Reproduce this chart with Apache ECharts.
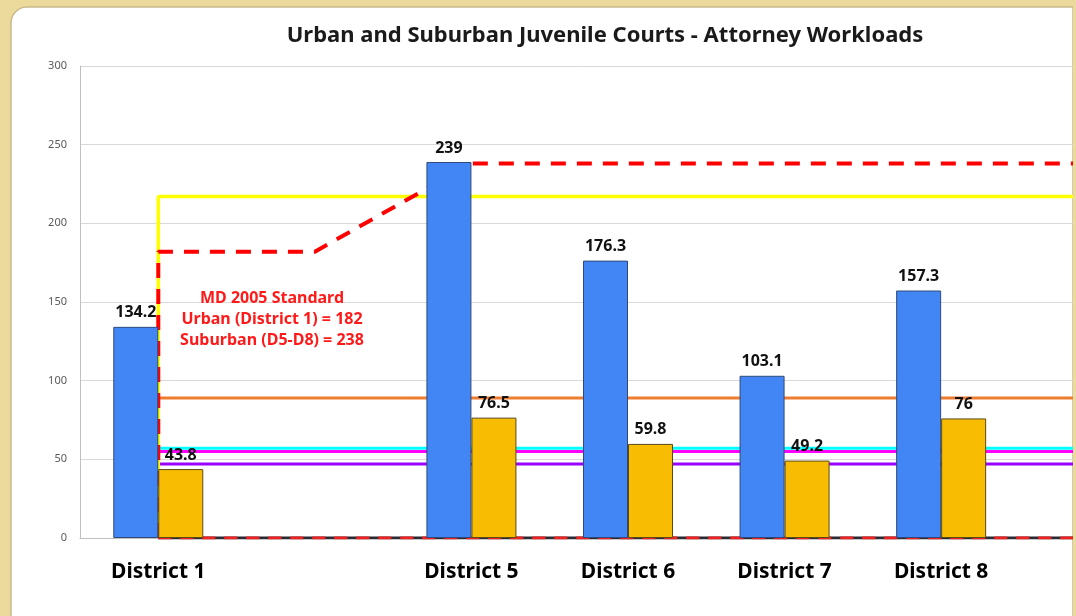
<!DOCTYPE html>
<html><head><meta charset="utf-8">
<script src="https://cdn.jsdelivr.net/npm/echarts@6/dist/echarts.min.js"></script>
<style>html,body{margin:0;padding:0;background:#ECDA9C;}#c{width:1076px;height:616px;}</style>
</head><body><div id="c"></div>
<script>
const categories = ['District 1', '', 'District 5', 'District 6', 'District 7', 'District 8', ''];
const attorneyWorkload = [134.2, null, 239, 176.3, 103.1, 157.3, null];
const secondWorkload = [43.8, null, 76.5, 59.8, 49.2, 76, null];
const yTicks = { min: 0, max: 300, interval: 50 };
// reference lines as [category index, value]
const yellowLine = [[0, 0], [0, 217], [6, 217]];
const redStandard = [[0, 0], [0, 182], [1, 182], [2, 238], [6, 238]];
const redZero = [[0, 0], [6, 0]];
const orangeLine = [[0, 89], [6, 89]];
const cyanLine = [[0, 57], [6, 57]];
const magentaLine = [[0, 55], [6, 55]];
const purpleLine = [[0, 47], [6, 47]];
const titleText = 'Urban and Suburban Juvenile Courts - Attorney Workloads';
const noteText = 'MD 2005 Standard\nUrban (District 1) = 182\nSuburban (D5-D8) = 238';

const chart = echarts.init(document.getElementById('c'));
const lbl = { show: true, position: 'top', distance: 6, fontSize: 16, fontWeight: 'bold', color: '#111', fontFamily: 'Noto Sans' };
function refLine(name, data, color, width, z, type) {
  return { name, type: 'line', data, showSymbol: false, symbol: 'none', z, animation: false,
    lineStyle: { color, width, type: type || 'solid', cap: 'butt' }, silent: true };
}
chart.setOption({
  backgroundColor: '#ECDA9C',
  animation: false,
  graphic: [
    { type: 'rect', z: -10, silent: true, shape: { x: 11, y: 7, width: 1062, height: 620, r: [16, 0, 0, 0] },
      style: { fill: '#ffffff', stroke: '#c9bb8c', lineWidth: 1.5 } },
    { type: 'rect', z: 100, silent: true, shape: { x: 1073, y: 0, width: 3, height: 616 },
      style: { fill: '#ECDA9C' } }
  ],
  title: [
    { text: titleText, left: 600, top: 20, textAlign: 'center',
      textStyle: { fontFamily: 'Noto Sans', fontSize: 22, fontWeight: 'bold', color: '#1a1a1a' } },
    { text: noteText, left: 267, top: 283, textAlign: 'center',
      textStyle: { fontFamily: 'Noto Sans', fontSize: 16, fontWeight: 'bold', color: '#FF1A1A', lineHeight: 21 } }
  ],
  grid: { left: 80, top: 66, bottom: 78, right: -100, containLabel: false, outerBoundsMode: 'none' },
  xAxis: {
    type: 'category', data: categories, boundaryGap: true,
    axisLine: { lineStyle: { color: '#bfbfbf', width: 1 } },
    axisTick: { show: false },
    axisLabel: { interval: 0, margin: 24, fontSize: 21, fontWeight: 'bold', color: '#000', fontFamily: 'Noto Sans' }
  },
  yAxis: {
    type: 'value', min: yTicks.min, max: yTicks.max, interval: yTicks.interval,
    axisLine: { show: true, lineStyle: { color: '#bfbfbf' } },
    axisTick: { show: false },
    axisLabel: { fontSize: 11, color: '#595959', margin: 13, fontFamily: 'Noto Sans' },
    splitLine: { lineStyle: { color: '#d9d9d9', width: 1 } }
  },
  series: [
    refLine('Purple', purpleLine, '#9A00FF', 3, 1),
    refLine('Magenta', magentaLine, '#FF00FF', 3, 1),
    refLine('Cyan', cyanLine, '#00FFFF', 3, 1),
    refLine('Orange', orangeLine, '#ED7D31', 3, 1),
    refLine('Yellow', yellowLine, '#FFFF00', 3.5, 1),
    refLine('Zero base', redZero, '#2b2b33', 3, 1),
    refLine('Zero', redZero, '#EE2222', 3, 1.5, [13, 9]),
    refLine('Standard', redStandard, '#FF0000', 4, 1.6, [15, 11]),
    { name: 'Attorney', type: 'bar', data: attorneyWorkload, barWidth: 45, barGap: '0%', z: 5,
      itemStyle: { color: '#4285F4', borderColor: '#2f4a7a', borderWidth: 1 }, label: lbl },
    { name: 'Other', type: 'bar', data: secondWorkload, barWidth: 45, barGap: '0%', z: 5,
      itemStyle: { color: '#F8BC02', borderColor: '#5a4a18', borderWidth: 1 }, label: lbl }
  ]
});
</script></body></html>
